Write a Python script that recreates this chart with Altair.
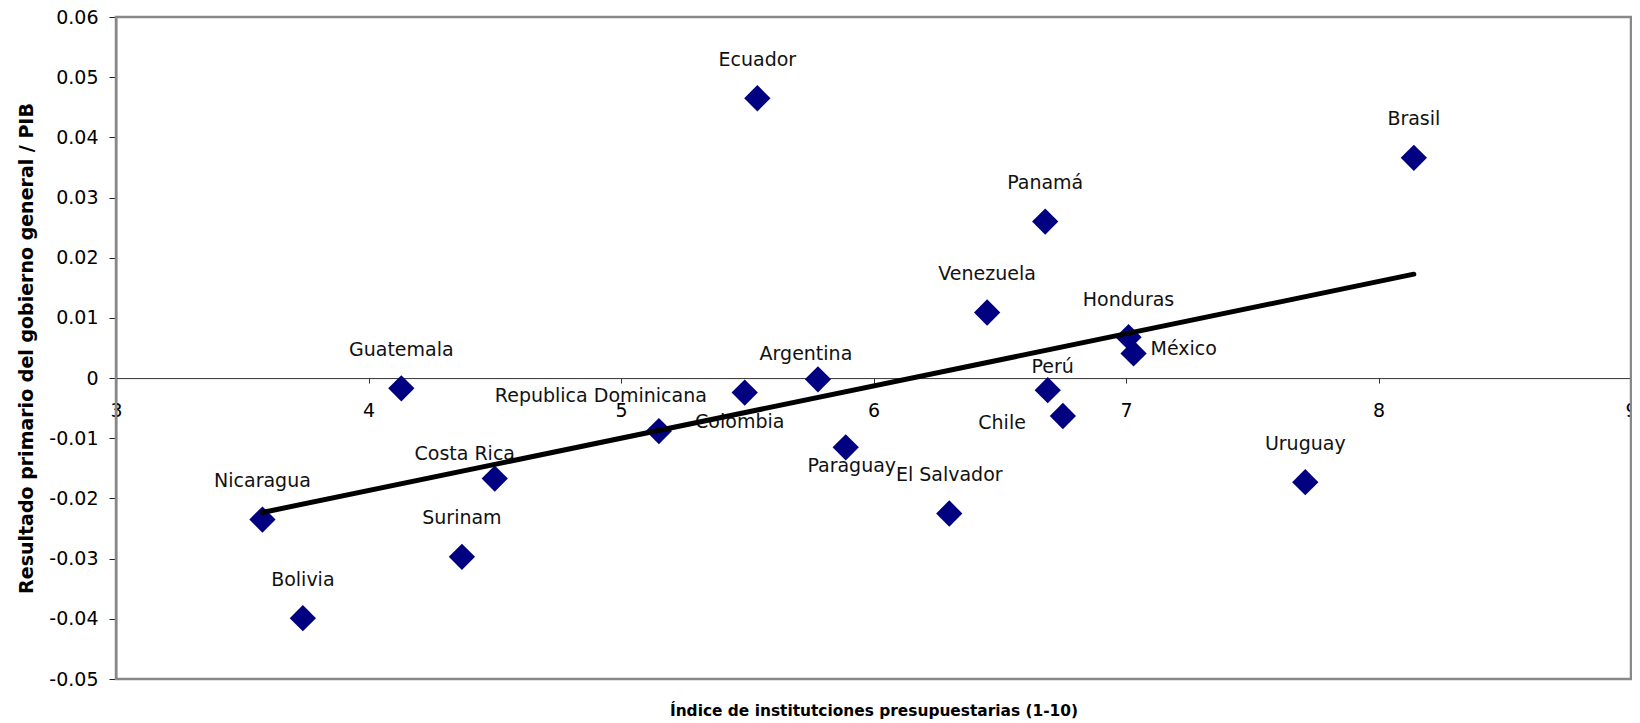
import altair as alt
import pandas as pd

paises = ["Guatemala", "Nicaragua", "Bolivia", "Costa Rica", "Surinam",
          "Republica Dominicana", "Colombia", "Argentina", "Paraguay", "Ecuador",
          "El Salvador", "Venezuela", "Panamá", "Perú", "Chile", "Honduras",
          "México", "Uruguay", "Brasil"]
indice = [4.13, 3.58, 3.74, 4.50, 4.37, 5.15, 5.49, 5.78, 5.89, 5.54,
          6.30, 6.45, 6.68, 6.69, 6.75, 7.01, 7.03, 7.71, 8.14]
resultado = [-0.0017, -0.0235, -0.0399, -0.0167, -0.0297, -0.0088, -0.0024, -0.0002,
             -0.0115, 0.0465, -0.0225, 0.0109, 0.0260, -0.0020, -0.0063, 0.0068,
             0.0041, -0.0173, 0.0366]
x_ticks = [3, 4, 5, 6, 7, 8, 9]
y_ticks = [-0.05, -0.04, -0.03, -0.02, -0.01, 0, 0.01, 0.02, 0.03, 0.04, 0.05, 0.06]
x_domain = [3, 9]
y_domain = [-0.05, 0.06]

df = pd.DataFrame({"pais": paises, "indice": indice, "resultado": resultado})

# label placement (pixels), layout only
label_layout = {
    "México": (17, -4, "left"),
    "Perú": (5, -23, "center"),
    "Chile": (-37, 7, "right"),
    "Paraguay": (6, 19, "center"),
    "Argentina": (-12, -25, "center"),
    "Colombia": (-5, 29, "center"),
    "Republica Dominicana": (-58, -35, "center"),
    "Costa Rica": (-30, -25, "center"),
    "Honduras": (0, -37, "center"),
}

W, H = 1515, 662
FONT = "DejaVu Sans"
zero_off = -(H - H * 0.06 / 0.11)

x_scale = alt.Scale(domain=x_domain, nice=False, zero=False)
y_scale = alt.Scale(domain=y_domain, nice=False, zero=False)

x_axis = alt.Axis(
    values=x_ticks, offset=zero_off, grid=False, labelFlush=False,
    tickSize=5, tickColor="#333333", domainColor="#333333", domainWidth=1,
    labelPadding=18, labelFont=FONT, labelFontSize=19, labelColor="#000000",
    title="Índice de institutciones presupuestarias (1-10)",
    titleFont=FONT, titleFontSize=15.4, titleFontWeight="bold",
    titleColor="#000000",
    titleX=W / 2, titleY=337, titleBaseline="alphabetic", titleAlign="center")

y_axis = alt.Axis(
    values=y_ticks, grid=False, tickSize=7, tickColor="#222222",
    domainColor="#222222", domainWidth=1.5,
    labelExpr="datum.value == 0 ? '0' : toString(round(datum.value * 100) / 100)",
    labelPadding=11, labelFont=FONT, labelFontSize=19, labelColor="#000000",
    title="Resultado primario del gobierno general / PIB",
    titleFont=FONT, titleFontSize=19, titleFontWeight="bold", titleColor="#000000",
    titleX=-84, titleBaseline="alphabetic")

x_enc = alt.X("indice:Q", scale=x_scale, axis=x_axis)
y_enc = alt.Y("resultado:Q", scale=y_scale, axis=y_axis)

base = alt.Chart(df)

# plot-area frame drawn from the scale domains
frame = alt.Chart(pd.DataFrame({"k": [0]})).mark_rect(
    filled=False, fill="transparent", stroke="#888888", strokeWidth=2.5
).encode(
    x=alt.X(datum=x_domain[0], type="quantitative", scale=x_scale, axis=x_axis),
    x2=alt.X2(datum=x_domain[1]),
    y=alt.Y(datum=y_domain[0], type="quantitative", scale=y_scale, axis=y_axis),
    y2=alt.Y2(datum=y_domain[1]),
)

points = base.mark_point(shape="diamond", filled=True, size=690, color="#000080",
                         opacity=1).encode(x=x_enc, y=y_enc)

labels = []
for p in paises:
    dx, dy, al = label_layout.get(p, (0, -38.5, "center"))
    labels.append(
        base.transform_filter(alt.datum.pais == p)
        .mark_text(dx=dx, dy=dy, align=al, baseline="middle", font=FONT,
                   fontSize=19, color="#111111")
        .encode(x=x_enc, y=y_enc, text="pais:N")
    )

trend = base.transform_regression("indice", "resultado").mark_line(
    color="#000000", strokeWidth=5, strokeCap="round").encode(x=x_enc, y=y_enc)

chart = alt.layer(frame, points, *labels, trend).properties(
    width=W, height=H,
    background="white",
    autosize=alt.AutoSizeParams(type="none"),
    padding={"left": 108, "top": 9, "right": 1, "bottom": 40},
).configure_view(strokeWidth=0)

chart.save("out.html", embed_options={"renderer": "svg", "actions": False})
